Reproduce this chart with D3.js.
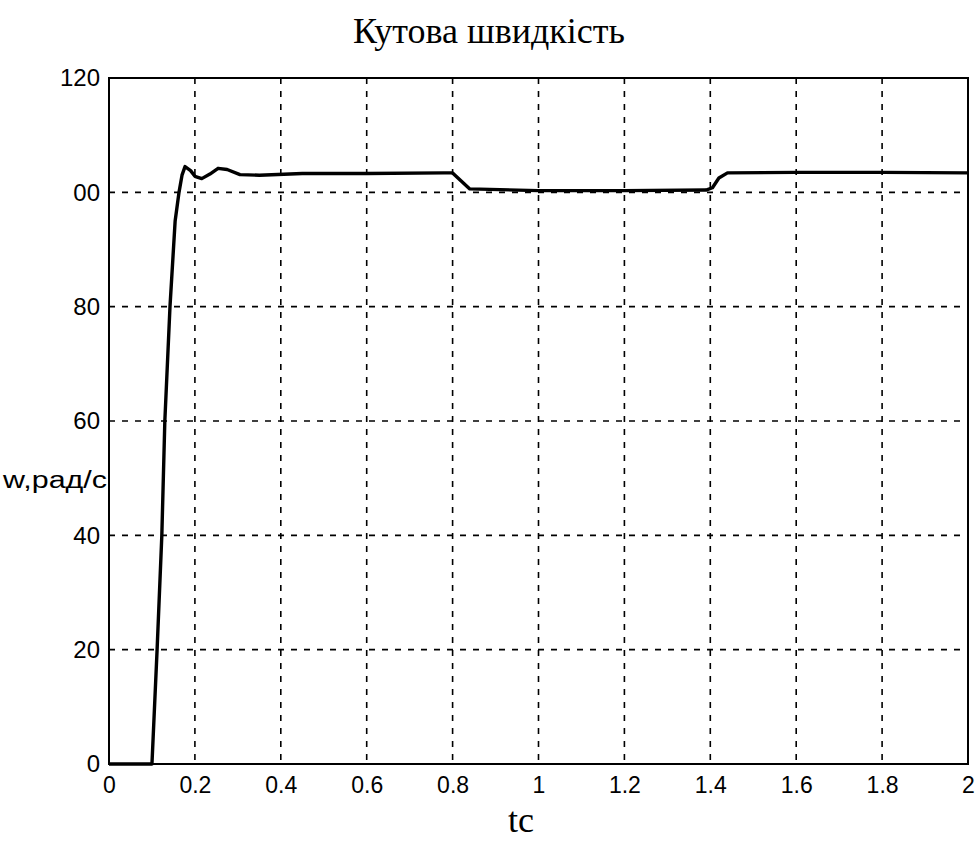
<!DOCTYPE html>
<html>
<head>
<meta charset="utf-8">
<script src="https://cdn.jsdelivr.net/npm/d3@7"></script>
<style>
  body { margin: 0; background: #fff; }
</style>
</head>
<body>
<svg id="chart" width="980" height="854"></svg>
<script>
// *************** DATA ***************
const timeValues = [0, 0.100, 0.112, 0.123, 0.130, 0.142, 0.154, 0.163, 0.170, 0.177, 0.190, 0.200,
                    0.216, 0.235, 0.254, 0.275, 0.305, 0.35, 0.45, 0.6, 0.78, 0.80, 0.82, 0.84,
                    1.0, 1.2, 1.39, 1.405, 1.42, 1.44, 1.6, 1.8, 2.0];
const speedValues = [0, 0, 20, 40, 60, 80, 95, 100, 103, 104.5, 103.8, 102.8,
                     102.4, 103.2, 104.2, 104, 103.1, 103, 103.3, 103.3, 103.4, 103.4, 102, 100.6,
                     100.3, 100.3, 100.4, 100.8, 102.5, 103.4, 103.5, 103.5, 103.4];

const xTicks = [0, 0.2, 0.4, 0.6, 0.8, 1, 1.2, 1.4, 1.6, 1.8, 2];
const xTickLabels = ["0", "0.2", "0.4", "0.6", "0.8", "1", "1.2", "1.4", "1.6", "1.8", "2"];
const yTicks = [0, 20, 40, 60, 80, 100, 120];
const yTickLabels = ["0", "20", "40", "60", "80", "00", "120"];

const titleText = "Кутова швидкість",
      xLabelText = "tc",
      yLabelText = "w,рад/с";

// *************** CONSTANTS ***************
const plotLeft = 109, plotRight = 968, plotTop = 78, plotBottom = 764;

const svg = d3.select("#chart");

const x = d3.scaleLinear().domain([0, 2]).range([plotLeft, plotRight]);
const y = d3.scaleLinear().domain([0, 120]).range([plotBottom, plotTop]);

const tickFont = "'Liberation Sans', Arial, sans-serif",
      serifFont = "'Liberation Serif', 'Times New Roman', serif";

// grid
const grid = svg.append("g")
                .attr("stroke", "#000")
                .attr("stroke-width", 1.6)
                .attr("stroke-dasharray", "6,7");

grid.selectAll("line.vx")
    .data(xTicks.slice(1, -1))
    .join("line")
    .attr("class", "vx")
    .attr("x1", d => x(d)).attr("x2", d => x(d))
    .attr("y1", plotTop).attr("y2", plotBottom);

grid.selectAll("line.hy")
    .data(yTicks.slice(1, -1))
    .join("line")
    .attr("class", "hy")
    .attr("y1", d => y(d)).attr("y2", d => y(d))
    .attr("x1", plotLeft).attr("x2", plotRight);

// frame
svg.append("rect")
   .attr("x", plotLeft)
   .attr("y", plotTop)
   .attr("width", plotRight - plotLeft)
   .attr("height", plotBottom - plotTop)
   .attr("fill", "none")
   .attr("stroke", "#000")
   .attr("stroke-width", 2);

// axes
svg.append("g")
   .attr("transform", `translate(0,${plotBottom})`)
   .call(d3.axisBottom(x)
          .tickValues(xTicks)
          .tickSize(0)
          .tickPadding(13)
          .tickFormat((d, i) => xTickLabels[i]))
   .call(g => g.select(".domain").remove())
   .selectAll("text")
   .attr("font-family", tickFont)
   .attr("font-size", "23px")
   .attr("fill", "#000");

svg.append("g")
   .attr("transform", `translate(${plotLeft},0)`)
   .call(d3.axisLeft(y)
          .tickValues(yTicks)
          .tickSize(0)
          .tickPadding(9)
          .tickFormat((d, i) => yTickLabels[i]))
   .call(g => g.select(".domain").remove())
   .selectAll("text")
   .attr("font-family", tickFont)
   .attr("font-size", "24px")
   .attr("fill", "#000");

// curve
const line = d3.line()
               .x((d, i) => x(timeValues[i]))
               .y(d => y(d));

svg.append("path")
   .datum(speedValues)
   .attr("d", line)
   .attr("fill", "none")
   .attr("stroke", "#000")
   .attr("stroke-width", 3.4)
   .attr("stroke-linejoin", "round");

// labels
svg.append("text")
   .attr("x", 489)
   .attr("y", 43)
   .attr("text-anchor", "middle")
   .attr("font-family", serifFont)
   .attr("font-size", "36px")
   .text(titleText);

svg.append("text")
   .attr("x", 521)
   .attr("y", 832)
   .attr("text-anchor", "middle")
   .attr("font-family", serifFont)
   .attr("font-size", "36px")
   .text(xLabelText);

svg.append("text")
   .attr("x", 3)
   .attr("y", 488)
   .attr("textLength", 104)
   .attr("lengthAdjust", "spacingAndGlyphs")
   .attr("font-family", tickFont)
   .attr("font-size", "23px")
   .text(yLabelText);
</script>
</body>
</html>
